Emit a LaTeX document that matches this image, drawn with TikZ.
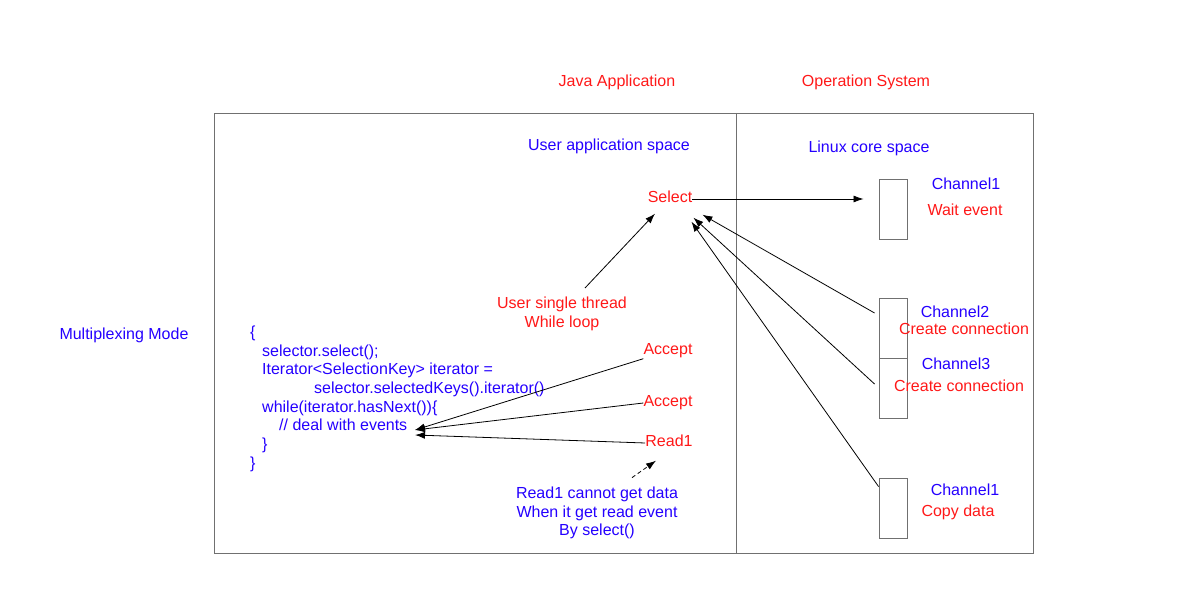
\documentclass[tikz,border=0pt]{standalone}
\usepackage{fontspec}
\setmainfont{Liberation Sans}
\usetikzlibrary{arrows.meta}
\definecolor{txtred}{RGB}{255,24,24}
\definecolor{txtblue}{RGB}{36,0,255}
\definecolor{boxgray}{RGB}{112,112,112}
\tikzset{
  txt/.style={inner sep=0pt, font=\fontsize{16}{18.7}\selectfont},
  lbl/.style={txt, text height=11.5pt, text depth=3.5pt},
  redlbl/.style={lbl, text=txtred},
  bluelbl/.style={lbl, text=txtblue},
  codeline/.style={txt, text=txtblue, anchor=base west},
  chbox/.style={draw=boxgray, line width=0.9pt, minimum width=28pt, minimum height=60pt, inner sep=0pt},
  arr/.style={-{Latex[length=10pt,width=7pt]}, line width=0.8pt},
}
\begin{document}
\begin{tikzpicture}[x=1pt, y=-1pt]
  \useasboundingbox (0,0) rectangle (1179,601);
  % frame
  \draw[boxgray, line width=0.9pt] (214,113) rectangle (1033,553);
  \draw[boxgray, line width=0.9pt] (736,113) -- (736,553);

  \node[redlbl] (java) at (617,83) {Java Application};
  \node[redlbl] (os) at (866,83) {Operation System};
  \node[bluelbl] (userspace) at (609,147) {User application space};
  \node[bluelbl] (kernelspace) at (869,149) {Linux core space};
  \node[bluelbl] (mode) at (124,336) {Multiplexing Mode};

  \node[redlbl] (select) at (670,199) {Select};
  \node[txt, text=txtred, align=center] (thread) at (562,314) {User single thread\\While loop};

  % code
  \node[codeline] (code1) at (250,337.5) {\{};
  \node[codeline] (code2) at (262,356.2) {selector.select();};
  \node[codeline] (code3) at (262,374.9) {Iterator<SelectionKey> iterator =};
  \node[codeline] (code4) at (314,393.6) {selector.selectedKeys().iterator()};
  \node[codeline] (code5) at (262,412.3) {while(iterator.hasNext())\{};
  \node[codeline] (code6) at (279,431) {// deal with events};
  \node[codeline] (code7) at (262,449.7) {\}};
  \node[codeline] (code8) at (250,468.4) {\}};
  \coordinate (evt) at (415,430);
  \coordinate (evtread) at (415,435);

  \node[redlbl] (accept1) at (668,351) {Accept};
  \node[redlbl] (accept2) at (668,403) {Accept};
  \node[redlbl] (read1) at (669,443) {Read1};
  \node[txt, text=txtblue, align=center] (readnote) at (597,513) {Read1 cannot get data\\When it get read event\\By select()};

  % channels
  \node[chbox] (ch1) at (893,209) {};
  \node[chbox] (ch2) at (893,328) {};
  \node[chbox] (ch3) at (893,388) {};
  \node[chbox] (ch1b) at (893,508) {};
  \node[bluelbl] (ch1name) at (966,186) {Channel1};
  \node[redlbl] (ch1state) at (965,212) {Wait event};
  \node[bluelbl] (ch2name) at (955,314) {Channel2};
  \node[redlbl] (ch2state) at (964,331) {Create connection};
  \node[bluelbl] (ch3name) at (956,366) {Channel3};
  \node[redlbl] (ch3state) at (959,388) {Create connection};
  \node[bluelbl] (ch1bname) at (965,492) {Channel1};
  \node[redlbl] (ch1bstate) at (958,513) {Copy data};

  % arrows
  \draw[arr, shorten >=15pt] (select.east) -- (select.east -| ch1.west);
  \draw[arr] ([xshift=23pt,yshift=9pt]thread.north) -- ([xshift=-15pt,yshift=-7pt]select.south);
  \draw[arr] ([xshift=-4pt,yshift=15pt]ch2.west) -- ([xshift=10pt,yshift=-8pt]select.south east);
  \draw[arr] ([xshift=-4pt,yshift=4pt]ch3.west) -- ([xshift=1pt,yshift=-11pt]select.south east);
  \draw[arr] ([yshift=-9pt]ch1b.north west) -- ([xshift=-1pt,yshift=-15pt]select.south east);
  \draw[arr] (accept1.south west) -- (evt);
  \draw[arr] (accept2.west) -- (evt);
  \draw[arr] (read1.west) -- (evtread);
  \draw[arr, dash pattern=on 4pt off 3pt] ([xshift=35pt,yshift=9pt]readnote.north) -- ([xshift=-13pt,yshift=-10pt]read1.south);
\end{tikzpicture}
\end{document}
